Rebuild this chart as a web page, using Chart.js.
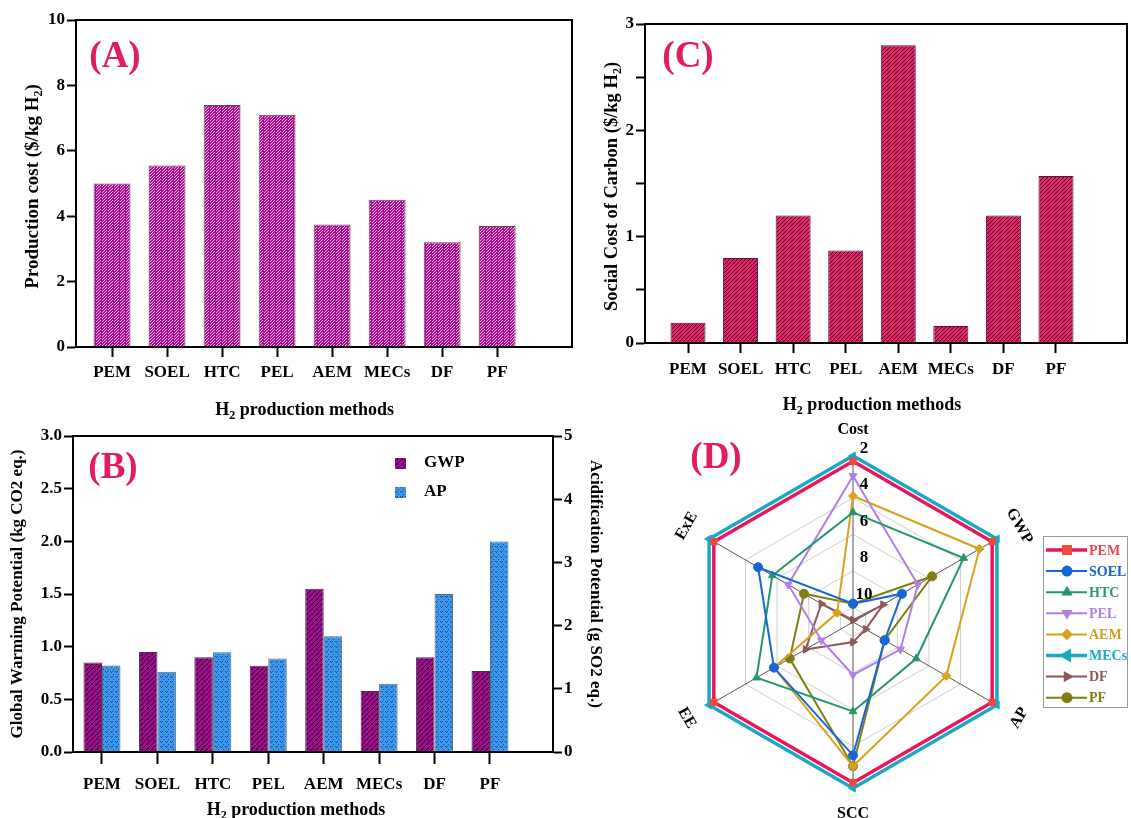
<!DOCTYPE html>
<html>
<head>
<meta charset="utf-8">
<script src="https://cdn.jsdelivr.net/npm/chart.js@4.4.1/dist/chart.umd.min.js"></script>
<style>
    html, body { margin: 0; padding: 0; background: #fff; }
    #page { position: relative; width: 1131px; height: 818px; overflow: hidden; }
    canvas { position: absolute; }
</style>
</head>
<body>
<div id="page">
    <canvas id="chartA" width="580" height="420" style="left:0px;top:0px"></canvas>
    <canvas id="chartC" width="551" height="420" style="left:580px;top:0px"></canvas>
    <canvas id="chartB" width="620" height="398" style="left:0px;top:420px"></canvas>
    <canvas id="chartD" width="491" height="418" style="left:640px;top:400px"></canvas>
</div>
<script>
// ---- data ----
const methods = ['PEM', 'SOEL', 'HTC', 'PEL', 'AEM', 'MECs', 'DF', 'PF'];
const productionCost = [5.0, 5.55, 7.4, 7.1, 3.75, 4.5, 3.2, 3.7];
const gwpValues = [0.85, 0.95, 0.90, 0.82, 1.55, 0.58, 0.90, 0.77];
const apValues = [1.37, 1.27, 1.58, 1.48, 1.83, 1.08, 2.50, 3.33];
const socialCost = [0.19, 0.80, 1.20, 0.87, 2.80, 0.16, 1.20, 1.57];

const radarAxes = ['Cost', 'GWP', 'AP', 'SCC', 'EE', 'ExE'];
const radarTicks = [2, 4, 6, 8, 10];
const pemScore = [2, 2, 2, 2, 2, 2];
const soelScore = [9.8, 7.7, 8.8, 3.5, 5.8, 4.8];
const htcScore = [4.8, 3.8, 6.8, 5.9, 4.7, 5.7];
const pelScore = [2.8, 6.7, 7.8, 7.9, 8.8, 6.7];
const aemScore = [3.9, 2.8, 4.9, 2.9, 5.8, 9.8];
const mecsScore = [1.7, 1.7, 1.7, 1.7, 1.7, 1.7];
const dfScore = [10.7, 8.9, 10.0, 9.7, 7.8, 8.8];
const pfScore = [9.8, 5.8, 8.8, 2.9, 6.8, 7.7];

const SERIF = "'Liberation Serif', 'Times New Roman', serif";
const TAG_COLOR = '#e11d5c';

Chart.defaults.font.family = SERIF;
Chart.defaults.font.weight = 'bold';
Chart.defaults.color = '#000';
Chart.defaults.plugins.legend.display = false;
Chart.defaults.plugins.tooltip.enabled = false;

function points(values) {
    return values.map(function(v, i) { return { x: i, y: v }; });
}

// small pixel tile used as bar fill
function makePattern(canvasId, bg, fg, w, h, isFg) {
    const tile = document.createElement('canvas');
    tile.width = w;
    tile.height = h;
    const g = tile.getContext('2d');
    g.fillStyle = bg;
    g.fillRect(0, 0, w, h);
    g.fillStyle = fg;
    for (let y = 0; y < h; y++) {
        for (let x = 0; x < w; x++) {
            if (isFg(x, y)) g.fillRect(x, y, 1, 1);
        }
    }
    return document.getElementById(canvasId).getContext('2d').createPattern(tile, 'repeat');
}

// text with subscript parts: [[text, isSub], ...]
function drawRich(ctx, parts, x, y, size, rotation) {
    const big = 'bold ' + size + 'px ' + SERIF;
    const small = 'bold ' + Math.round(size * 0.65) + 'px ' + SERIF;
    ctx.save();
    ctx.translate(x, y);
    ctx.rotate(rotation);
    ctx.textBaseline = 'middle';
    ctx.textAlign = 'left';
    ctx.fillStyle = '#000';
    let total = 0;
    parts.forEach(function(p) {
        ctx.font = p[1] ? small : big;
        total += ctx.measureText(p[0]).width;
    });
    let cx = -total / 2;
    parts.forEach(function(p) {
        ctx.font = p[1] ? small : big;
        ctx.fillText(p[0], cx, p[1] ? size * 0.32 : 0);
        cx += ctx.measureText(p[0]).width;
    });
    ctx.restore();
}

const xTitleParts = [['H', false], ['2', true], [' production methods', false]];

const decorPlugin = {
    id: 'decor',
    afterDraw: function(chart, args, opts) {
        const ctx = chart.ctx;
        const a = chart.chartArea;
        ctx.save();
        if (opts.frame) {
            ctx.strokeStyle = '#000';
            ctx.lineWidth = 2;
            ctx.strokeRect(a.left, a.top, a.right - a.left, a.bottom - a.top);
        }
        if (opts.tag) {
            ctx.font = 'bold 37px ' + SERIF;
            ctx.fillStyle = TAG_COLOR;
            ctx.textAlign = 'center';
            ctx.textBaseline = 'middle';
            ctx.fillText(opts.tag.text, opts.tag.x, opts.tag.y);
        }
        if (opts.xTitleY) {
            const xs = chart.scales.x;
            const cx = (xs.getPixelForValue(0) + xs.getPixelForValue(methods.length - 1)) / 2;
            drawRich(ctx, xTitleParts, cx, opts.xTitleY, 18, 0);
        }
        (opts.yTitles || []).forEach(function(t) {
            drawRich(ctx, t.parts, t.x, (a.top + a.bottom) / 2 + (t.dy || 0), t.size || 17, t.rot);
        });
        ctx.restore();
    }
};

function methodAxis(min, max, tickLen, pad, height) {
    return {
        type: 'linear',
        min: min,
        max: max,
        offset: false,
        afterBuildTicks: function(scale) {
            scale.ticks = methods.map(function(m, i) { return { value: i }; });
        },
        ticks: {
            autoSkip: false,
            maxRotation: 0,
            padding: pad,
            font: { size: 17 },
            callback: function(v) { return methods[v]; }
        },
        grid: { offset: false, drawOnChartArea: false, tickLength: tickLen, tickWidth: 2, tickColor: '#000' },
        border: { color: '#000', width: 2 },
        afterFit: function(scale) { scale.height = height; }
    };
}

function valueAxis(min, max, step, width, fmt, position) {
    return {
        position: position || 'left',
        min: min,
        max: max,
        ticks: { stepSize: step, padding: 2, font: { size: 17 }, callback: fmt },
        grid: { drawOnChartArea: false, tickLength: 9, tickWidth: 2, tickColor: '#000' },
        border: { color: '#000', width: 2 },
        afterFit: function(scale) { scale.width = width; }
    };
}

// ---- (A) production cost ----
const patA = makePattern('chartA', '#a80f90', '#f6b0de', 6, 6, function(x, y) {
    return (x + y) % 3 === 0 && x % 6 !== 5;
});
new Chart(document.getElementById('chartA'), {
    type: 'bar',
    data: {
        datasets: [{
            label: 'Production cost',
            data: points(productionCost),
            backgroundColor: patA,
            borderColor: '#5a4a55',
            borderWidth: 1,
            barPercentage: 0.67,
            categoryPercentage: 1
        }]
    },
    options: {
        responsive: false,
        animation: false,
        devicePixelRatio: 1,
        layout: { padding: { top: 20, right: 8, left: 0, bottom: 0 } },
        scales: {
            x: methodAxis(-0.655, 8.36, 10, 5, 73),
            y: valueAxis(0, 10, 2, 76)
        },
        plugins: {
            decor: {
                frame: true,
                tag: { text: '(A)', x: 115, y: 57 },
                xTitleY: 410,
                yTitles: [{ parts: [['Production cost ($/kg H', false], ['2', true], [')', false]], x: 33, rot: -Math.PI / 2, size: 19, dy: 3 }]
            }
        }
    },
    plugins: [decorPlugin]
});

// ---- (C) social cost of carbon ----
const patC = makePattern('chartC', '#f0186e', '#3a0a22', 4, 4, function(x, y) {
    return (x + y) % 4 === 0;
});
new Chart(document.getElementById('chartC'), {
    type: 'bar',
    data: {
        datasets: [{
            label: 'Social Cost of Carbon',
            data: points(socialCost),
            backgroundColor: patC,
            borderColor: '#4a2030',
            borderWidth: 1,
            barPercentage: 0.666,
            categoryPercentage: 1
        }]
    },
    options: {
        responsive: false,
        animation: false,
        devicePixelRatio: 1,
        layout: { padding: { top: 24, right: 4, left: 0, bottom: 0 } },
        scales: {
            x: methodAxis(-0.818, 8.351, 10, 6, 77),
            y: valueAxis(0, 3, 0.5, 65, function(v) { return Number.isInteger(v) ? String(v) : ''; })
        },
        plugins: {
            decor: {
                frame: true,
                tag: { text: '(C)', x: 108, y: 57 },
                xTitleY: 405,
                yTitles: [{ parts: [['Social Cost of Carbon ($/kg H', false], ['2', true], [')', false]], x: 32, rot: -Math.PI / 2, size: 18.5, dy: 3 }]
            }
        }
    },
    plugins: [decorPlugin]
});

// ---- (B) GWP and AP ----
const patGwp = makePattern('chartB', '#9e0e8c', '#3c0636', 5, 5, function(x, y) {
    return (x + y) % 5 === 0 || (x + y) % 5 === 1 && x % 5 === 2;
});
const patAp = makePattern('chartB', '#3c98ec', '#1a4c96', 5, 5, function(x, y) {
    return (y === 1 && (x === 0 || x === 2)) || (y === 2 && x === 1) || (y === 4 && x === 3);
});
const barLegendPlugin = {
    id: 'barLegend',
    afterDraw: function(chart) {
        const ctx = chart.ctx;
        const a = chart.chartArea;
        ctx.save();
        ctx.font = 'bold 17px ' + SERIF;
        ctx.textBaseline = 'middle';
        ctx.textAlign = 'left';
        chart.data.datasets.forEach(function(ds, i) {
            const y = a.top + 27 + i * 29;
            ctx.fillStyle = ds.backgroundColor;
            ctx.fillRect(a.left + 322, y - 5, 11, 11);
            ctx.fillStyle = '#000';
            ctx.fillText(ds.label, a.left + 351, y);
        });
        ctx.restore();
    }
};
new Chart(document.getElementById('chartB'), {
    type: 'bar',
    data: {
        datasets: [{
            label: 'GWP',
            data: points(gwpValues),
            yAxisID: 'y',
            backgroundColor: patGwp,
            borderColor: '#4a3048',
            borderWidth: 1,
            barPercentage: 1,
            categoryPercentage: 0.667
        }, {
            label: 'AP',
            data: points(apValues),
            yAxisID: 'y2',
            backgroundColor: patAp,
            borderColor: '#5a6a80',
            borderWidth: 1,
            barPercentage: 1,
            categoryPercentage: 0.667
        }]
    },
    options: {
        responsive: false,
        animation: false,
        devicePixelRatio: 1,
        layout: { padding: { top: 16, right: 0, left: 0, bottom: 0 } },
        scales: {
            x: methodAxis(-0.523, 8.137, 12, 10, 66),
            y: valueAxis(0, 3, 0.5, 73, function(v) { return v.toFixed(1); }),
            y2: valueAxis(0, 5, 1, 67, function(v) { return String(v); }, 'right')
        },
        plugins: {
            decor: {
                frame: true,
                tag: { text: '(B)', x: 113, y: 48 },
                xTitleY: 390,
                yTitles: [
                    { parts: [['Global Warming Potential (kg CO2 eq.)', false]], x: 18, rot: -Math.PI / 2 },
                    { parts: [['Acidification Potential (g SO2 eq.)', false]], x: 595, rot: Math.PI / 2, dy: -10 }
                ]
            }
        }
    },
    plugins: [decorPlugin, barLegendPlugin]
});

// ---- (D) radar ----
const radarDecorPlugin = {
    id: 'radarDecor',
    afterDraw: function(chart) {
        const s = chart.scales.r;
        const ctx = chart.ctx;
        ctx.save();
        ctx.fillStyle = '#000';
        ctx.textAlign = 'center';
        ctx.textBaseline = 'middle';
        ctx.font = 'bold 17px ' + SERIF;
        radarTicks.forEach(function(v) {
            const r = s.getDistanceFromCenterForValue(v);
            ctx.fillText(String(v), s.xCenter + 11, s.yCenter - r - 13);
        });
        ctx.font = 'bold 16px ' + SERIF;
        radarAxes.forEach(function(lab, i) {
            const p = s.getPointPosition(i, s.drawingArea + 24);
            let rot = p.angle + Math.PI / 2;
            while (rot > Math.PI / 2 + 0.01) rot -= Math.PI;
            while (rot <= -Math.PI / 2) rot += Math.PI;
            ctx.save();
            ctx.translate(p.x, p.y);
            ctx.rotate(rot);
            ctx.fillText(lab, 0, 0);
            ctx.restore();
        });
        // legend box
        const lx = 406, ly = 150;
        ctx.strokeStyle = '#9a9a9a';
        ctx.lineWidth = 1;
        ctx.strokeRect(lx - 2.5, ly - 13.5, 84, 171);
        ctx.font = 'bold 14px ' + SERIF;
        ctx.textAlign = 'left';
        chart.data.datasets.forEach(function(ds, i) {
            const y = ly + i * 21.1;
            ctx.strokeStyle = ds.borderColor;
            ctx.lineWidth = ds.borderWidth;
            ctx.beginPath();
            ctx.moveTo(lx, y);
            ctx.lineTo(lx + 41, y);
            ctx.stroke();
            ctx.fillStyle = ds.pointBackgroundColor;
            ctx.strokeStyle = ds.pointBackgroundColor;
            Chart.helpers.drawPoint(ctx, {
                pointStyle: ds.pointStyle,
                rotation: ds.pointRotation || 0,
                radius: 4.5,
                borderWidth: 1
            }, lx + 21, y);
            ctx.fillStyle = ds.textColor;
            ctx.fillText(ds.label, lx + 43, y + 1);
        });
        ctx.restore();
    }
};

function radarSet(label, values, line, marker, text, style, rotation, width) {
    return {
        label: label,
        data: values,
        borderColor: line,
        backgroundColor: 'rgba(0,0,0,0)',
        borderWidth: width,
        fill: false,
        pointStyle: style,
        pointRotation: rotation,
        pointRadius: 4.5,
        pointBorderWidth: 1,
        pointBackgroundColor: marker,
        pointBorderColor: marker,
        textColor: text
    };
}

new Chart(document.getElementById('chartD'), {
    type: 'radar',
    data: {
        labels: radarAxes,
        datasets: [
            radarSet('PEM', pemScore, '#e8175d', '#f04a3e', '#ec4646', 'rect', 0, 3.5),
            radarSet('SOEL', soelScore, '#1766d6', '#1766d6', '#1a60cc', 'circle', 0, 2),
            radarSet('HTC', htcScore, '#24966a', '#24966a', '#2a9a6a', 'triangle', 0, 2),
            radarSet('PEL', pelScore, '#b27ee6', '#b27ee6', '#b27ee6', 'triangle', 180, 2),
            radarSet('AEM', aemScore, '#d9a21c', '#d9a21c', '#d39d1c', 'rectRot', 0, 2),
            radarSet('MECs', mecsScore, '#1aa9c4', '#1aa9c4', '#1aa9c4', 'triangle', -90, 3.5),
            radarSet('DF', dfScore, '#8c5858', '#8c5858', '#8c5858', 'triangle', 90, 2),
            radarSet('PF', pfScore, '#7e7e12', '#7e7e12', '#7e7e12', 'circle', 0, 2)
        ]
    },
    options: {
        responsive: false,
        animation: false,
        devicePixelRatio: 1,
        layout: { padding: { top: 54, left: 45, right: 110, bottom: 28 } },
        elements: { line: { tension: 0 } },
        scales: {
            r: {
                reverse: true,
                min: 1.6,
                max: 10.8,
                afterBuildTicks: function(scale) {
                    scale.ticks = [{ value: scale.max }].concat(radarTicks.map(function(v) { return { value: v }; }));
                },
                ticks: { display: false },
                grid: { color: '#cdcdcd', lineWidth: 1 },
                angleLines: { color: '#555', lineWidth: 1 },
                pointLabels: { display: false }
            }
        },
        plugins: {
            decor: { tag: { text: '(D)', x: 76, y: 58 } }
        }
    },
    plugins: [decorPlugin, radarDecorPlugin]
});
</script>
</body>
</html>
